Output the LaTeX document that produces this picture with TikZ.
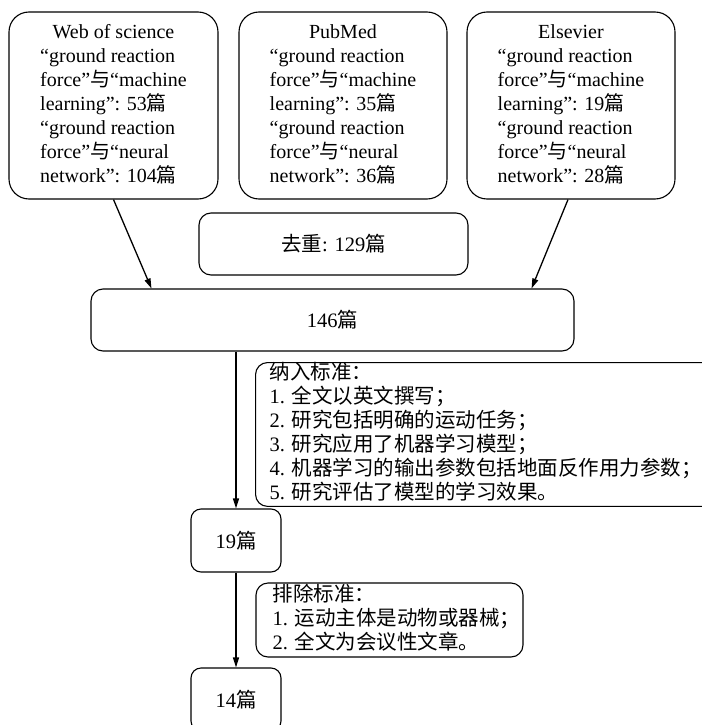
\documentclass[tikz,border=0pt]{standalone}
\usepackage{fontspec}
\setmainfont{Liberation Serif}
\newfontfamily\cjk{Noto Sans CJK SC}
\newcommand\zh[1]{{\cjk #1}}
\usetikzlibrary{arrows.meta,calc}
\begin{document}
\begin{tikzpicture}[x=1pt,y=-1pt,
  box/.style={draw, line width=1.1pt, inner sep=0pt, anchor=center},
  srcbox/.style={box, rounded corners=20pt, minimum width=208pt, minimum height=187pt,
    font=\fontsize{20}{24}\selectfont},
  midbox/.style={box, rounded corners=12pt, minimum height=62pt,
    font=\fontsize{20.5}{24}\selectfont},
  critbox/.style={box, rounded corners=12pt, font=\fontsize{20.5}{22}\selectfont},
  arr/.style={line width=1.3pt, -{Triangle[length=10pt,width=6pt]}}
]
\useasboundingbox (0,0) rectangle (701,725);

\node[srcbox, minimum width=209pt] (wos) at (113.5,105.5) {\raisebox{-3pt}{\begin{tabular}{@{}l@{}}\multicolumn{1}{@{}c@{}}{Web of science}\\
“ground reaction\\ force”\zh{与}“machine\\ learning”: 53\zh{篇}\\ “ground reaction\\ force”\zh{与}“neural\\ network”: 104\zh{篇}\end{tabular}}};

\node[srcbox] (pub) at (343,105.5) {\raisebox{-3pt}{\begin{tabular}{@{}l@{}}\multicolumn{1}{@{}c@{}}{PubMed}\\
“ground reaction\\ force”\zh{与}“machine\\ learning”: 35\zh{篇}\\ “ground reaction\\ force”\zh{与}“neural\\ network”: 36\zh{篇}\end{tabular}}};

\node[srcbox] (els) at (571,105.5) {\raisebox{-3pt}{\begin{tabular}{@{}l@{}}\multicolumn{1}{@{}c@{}}{Elsevier}\\
“ground reaction\\ force”\zh{与}“machine\\ learning”: 19\zh{篇}\\ “ground reaction\\ force”\zh{与}“neural\\ network”: 28\zh{篇}\end{tabular}}};

\node[midbox, minimum width=269pt] (dedup) at (333.5,244) {\zh{去重}: 129\zh{篇}};

\node[midbox, minimum width=483pt] (n146) at (332.5,320) {146\zh{篇}};

\node[critbox, anchor=north west, minimum height=143pt, inner xsep=14pt] (incl) at (255,362)
 {\begin{tabular}{@{}l@{\hspace{30pt}}}\zh{纳入标准：}\\
 1. \zh{全文以英文撰写；}\\
 2. \zh{研究包括明确的运动任务；}\\
 3. \zh{研究应用了机器学习模型；}\\
 4. \zh{机器学习的输出参数包括地面反作用力参数；}\\
 5. \zh{研究评估了模型的学习效果。}\end{tabular}};

\node[midbox, rounded corners=10pt, minimum width=90pt, minimum height=63pt] (n19) at (236,540.5) {19\zh{篇}};

\node[critbox, minimum width=267pt, minimum height=74pt] (excl) at (389.5,620)
 {\begin{tabular}{@{\hspace{14pt}}l@{}}\zh{排除标准：}\\
 1. \zh{运动主体是动物或器械；}\\
 2. \zh{全文为会议性文章。}\end{tabular}};

\node[midbox, rounded corners=10pt, minimum width=90pt, minimum height=63pt] (n14) at (236,699.5) {14\zh{篇}};

\draw[arr] (wos.south) -- ($(n146.north west)+(61,0)$);
\draw[arr] ($(els.south)+(-3,0)$) -- ($(n146.north east)+(-43,0)$);
\draw[arr] (n19.north |- n146.south) -- (n19.north);
\draw[arr] (n19.south) -- (n14.north);
\end{tikzpicture}
\end{document}
